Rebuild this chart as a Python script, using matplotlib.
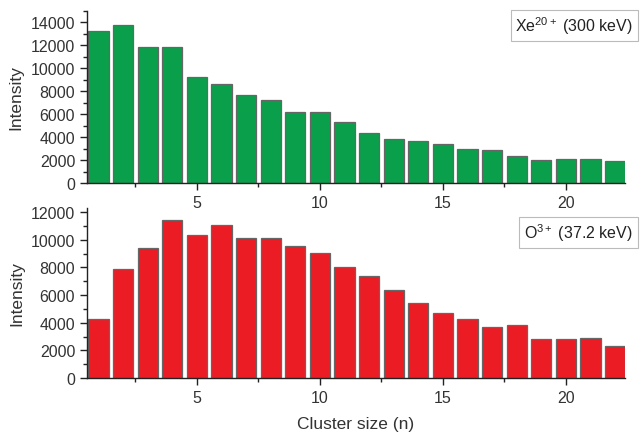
import matplotlib
matplotlib.use("Agg")
import matplotlib.pyplot as plt
from matplotlib.ticker import MultipleLocator

plt.rcParams['font.family'] = ['Liberation Sans', 'DejaVu Sans']
plt.rcParams['mathtext.fontset'] = 'custom'
plt.rcParams['mathtext.rm'] = 'Liberation Sans'
plt.rcParams['mathtext.it'] = 'Liberation Sans:italic'
plt.rcParams['mathtext.bf'] = 'Liberation Sans:bold'

cluster_size = list(range(1, 23))
xe_intensity = [13250, 13800, 11900, 11830, 9250, 8600, 7700, 7220, 6150, 6150,
                5280, 4320, 3880, 3680, 3390, 2980, 2870, 2380, 1970, 2060, 2110, 1940]
o_intensity = [4250, 7900, 9400, 11400, 10350, 11100, 10100, 10100, 9550, 9050,
               8000, 7400, 6400, 5450, 4700, 4250, 3700, 3800, 2850, 2850, 2900, 2350]
xe_label = r"Xe$^{\mathrm{20+}}$ (300 keV)"
o_label = r"O$^{\mathrm{3+}}$ (37.2 keV)"

green = "#0a9f4b"
red = "#ec1c24"
edge = "#666666"

fig = plt.figure(figsize=(6.43, 4.35), dpi=100)
ax1 = fig.add_axes([87/643, 1 - 184/435, 538/643, 172/435])
ax2 = fig.add_axes([87/643, 1 - 379/435, 538/643, 170/435])


def style(ax, ymax, major, minor):
    ax.set_xlim(0.53, 22.4)
    ax.set_ylim(0, ymax)
    ax.xaxis.set_major_locator(MultipleLocator(5))
    ax.xaxis.set_minor_locator(MultipleLocator(2.5))
    ax.yaxis.set_major_locator(MultipleLocator(major))
    ax.yaxis.set_minor_locator(MultipleLocator(minor))
    for s in ("top", "right"):
        ax.spines[s].set_visible(False)
    for s in ("left", "bottom"):
        ax.spines[s].set_color("#222222")
        ax.spines[s].set_linewidth(1.0)
    ax.tick_params(which="major", direction="out", length=5, width=1,
                   labelsize=11.5, colors="#222222", labelcolor="#333333")
    ax.tick_params(which="minor", direction="out", length=3, width=1, colors="#222222")
    ax.set_ylabel("Intensity", fontsize=12.5, color="#333333", labelpad=5)


ax1.bar(cluster_size, xe_intensity, width=0.82, color=green, edgecolor=edge, linewidth=0.9)
style(ax1, 15000, 2000, 1000)
ax1.text(1.015, 0.98, xe_label, transform=ax1.transAxes, ha="right", va="top",
         fontsize=11.5, color="#222222",
         bbox=dict(boxstyle="square,pad=0.3", fc="white", ec="#bbbbbb", lw=0.8))

ax2.bar(cluster_size, o_intensity, width=0.82, color=red, edgecolor=edge, linewidth=0.9)
style(ax2, 12300, 2000, 1000)
ax2.set_xlabel("Cluster size (n)", fontsize=12.5, color="#333333", labelpad=8)
ax2.text(1.015, 0.92, o_label, transform=ax2.transAxes, ha="right", va="top",
         fontsize=11.5, color="#222222",
         bbox=dict(boxstyle="square,pad=0.3", fc="white", ec="#bbbbbb", lw=0.8))

fig.savefig("out.png", dpi=100)
